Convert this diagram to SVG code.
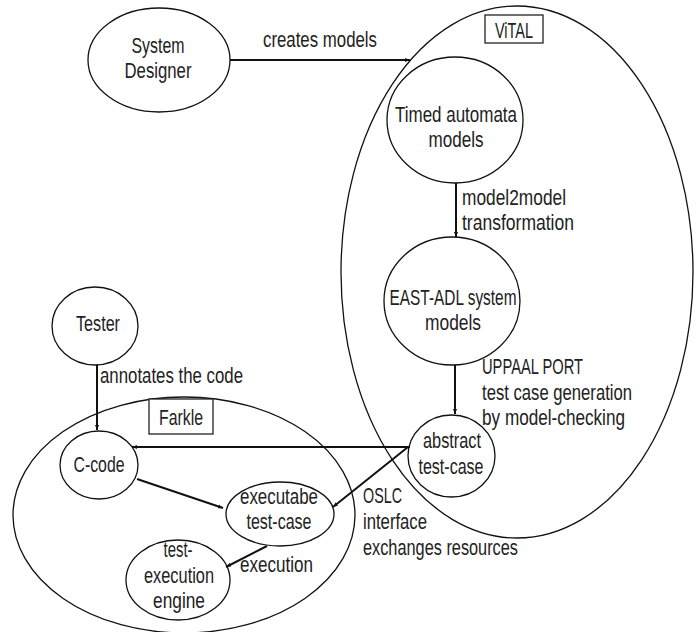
<svg xmlns="http://www.w3.org/2000/svg" width="697" height="632" viewBox="0 0 697 632">
<defs>
<marker id="ah" viewBox="0 0 10 10" refX="10" refY="5" markerWidth="5" markerHeight="5" orient="auto" markerUnits="userSpaceOnUse">
<path d="M0,1 L10,5 L0,9 z" fill="#111"/>
</marker>
<style>
.shape{fill:none;stroke:#111;stroke-width:1.3}
.box{fill:#fff;stroke:#222;stroke-width:1.3}
.edge{fill:none;stroke:#111;stroke-width:2;marker-end:url(#ah)}
text{font-family:"Liberation Sans Narrow","Liberation Sans",Arial,sans-serif;font-size:22px;fill:#222}
.c{text-anchor:middle}
</style>
</defs>
<rect width="697" height="632" fill="#fff"/>
<g id="vital">
<ellipse class="shape" cx="517" cy="272" rx="176" ry="266"/>
<rect class="box" x="485" y="15" width="58" height="28"/>
<text class="c" x="514" y="38" textLength="38" lengthAdjust="spacingAndGlyphs">ViTAL</text>
</g>
<g id="farkle">
<ellipse class="shape" cx="184" cy="515" rx="171" ry="118"/>
<rect class="box" x="149" y="399" width="64" height="35"/>
<text class="c" x="181" y="425" textLength="44" lengthAdjust="spacingAndGlyphs">Farkle</text>
</g>
<g id="system-designer">
<ellipse class="shape" cx="159" cy="60" rx="71" ry="52"/>
<text class="c" x="158" y="53" textLength="53" lengthAdjust="spacingAndGlyphs">System</text>
<text class="c" x="158" y="78" textLength="67" lengthAdjust="spacingAndGlyphs">Designer</text>
</g>
<g id="timed-automata">
<ellipse class="shape" cx="455" cy="120" rx="68" ry="63"/>
<text class="c" x="456" y="122" textLength="122" lengthAdjust="spacingAndGlyphs">Timed automata</text>
<text class="c" x="456" y="147" textLength="55" lengthAdjust="spacingAndGlyphs">models</text>
</g>
<g id="east-adl">
<ellipse class="shape" cx="452" cy="301" rx="68" ry="64"/>
<text class="c" x="453" y="305" textLength="127" lengthAdjust="spacingAndGlyphs">EAST-ADL system</text>
<text class="c" x="453" y="330" textLength="56" lengthAdjust="spacingAndGlyphs">models</text>
</g>
<g id="abstract-test-case">
<ellipse class="shape" cx="451.5" cy="456" rx="43.5" ry="41"/>
<text class="c" x="452" y="448" textLength="58" lengthAdjust="spacingAndGlyphs">abstract</text>
<text class="c" x="451" y="474" textLength="65" lengthAdjust="spacingAndGlyphs">test-case</text>
</g>
<g id="tester">
<ellipse class="shape" cx="95" cy="326" rx="43" ry="39"/>
<text class="c" x="98" y="331" textLength="44" lengthAdjust="spacingAndGlyphs">Tester</text>
</g>
<g id="c-code">
<ellipse class="shape" cx="99" cy="465" rx="39" ry="34"/>
<text class="c" x="99" y="472" textLength="51" lengthAdjust="spacingAndGlyphs">C-code</text>
</g>
<g id="executable-test-case">
<ellipse class="shape" cx="280" cy="514" rx="54" ry="32"/>
<text class="c" x="279" y="504" textLength="78" lengthAdjust="spacingAndGlyphs">executabe</text>
<text class="c" x="279" y="529" textLength="65" lengthAdjust="spacingAndGlyphs">test-case</text>
</g>
<g id="test-execution-engine">
<ellipse class="shape" cx="178" cy="580" rx="52" ry="40"/>
<text class="c" x="178" y="557" textLength="29" lengthAdjust="spacingAndGlyphs">test-</text>
<text class="c" x="179" y="583" textLength="70" lengthAdjust="spacingAndGlyphs">execution</text>
<text class="c" x="179" y="608" textLength="52" lengthAdjust="spacingAndGlyphs">engine</text>
</g>
<g id="connectors">
<line class="edge" x1="230" y1="60" x2="410" y2="60"/>
<line class="edge" x1="456" y1="183" x2="456" y2="237"/>
<line class="edge" x1="455" y1="365" x2="455" y2="414"/>
<line class="edge" x1="410" y1="447" x2="132" y2="447"/>
<line class="edge" x1="408" y1="447" x2="333" y2="507"/>
<line class="edge" x1="97" y1="365" x2="97" y2="430"/>
<line class="edge" x1="137" y1="479" x2="223" y2="508"/>
<line class="edge" x1="267" y1="546" x2="226" y2="567"/>
</g>
<g id="labels">
<text x="263" y="47" textLength="114" lengthAdjust="spacingAndGlyphs">creates models</text>
<text x="462" y="205" textLength="104" lengthAdjust="spacingAndGlyphs">model2model</text>
<text x="462" y="230" textLength="112" lengthAdjust="spacingAndGlyphs">transformation</text>
<text x="482" y="374" textLength="101" lengthAdjust="spacingAndGlyphs">UPPAAL PORT</text>
<text x="482" y="400" textLength="150" lengthAdjust="spacingAndGlyphs">test case generation</text>
<text x="482" y="425" textLength="143" lengthAdjust="spacingAndGlyphs">by model-checking</text>
<text x="100" y="383" textLength="143" lengthAdjust="spacingAndGlyphs">annotates the code</text>
<text x="363" y="503" textLength="39" lengthAdjust="spacingAndGlyphs">OSLC</text>
<text x="363" y="529" textLength="64" lengthAdjust="spacingAndGlyphs">interface</text>
<text x="363" y="555" textLength="155" lengthAdjust="spacingAndGlyphs">exchanges resources</text>
<text x="240" y="572" textLength="73" lengthAdjust="spacingAndGlyphs">execution</text>
</g>
</svg>
